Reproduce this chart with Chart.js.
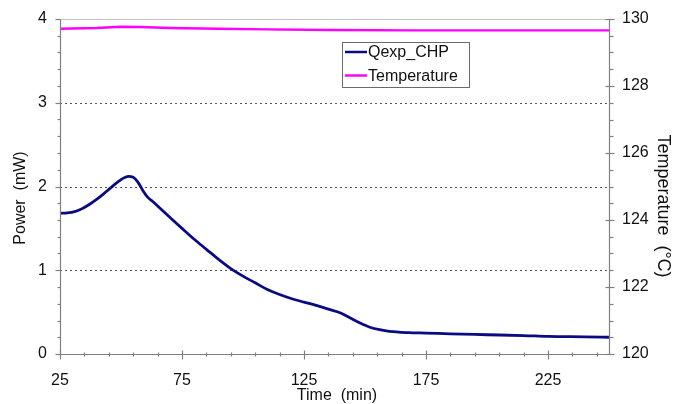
<!DOCTYPE html>
<html>
<head>
<meta charset="utf-8">
<script src="https://cdn.jsdelivr.net/npm/chart.js@4.4.1/dist/chart.umd.min.js"></script>
<style>
html,body{margin:0;padding:0;background:#fff;}
#wrap{width:673px;height:404px;position:relative;}
</style>
</head>
<body>
<div id="wrap"><canvas id="c" width="673" height="404"></canvas></div>
<script>
// ---- data ----
const powerTime = [25,28,31,34,37,40,43,46,49,51,53,55,57,59,61,63,66,69,72,75,80,85,90,95,100,105,110,115,120,125,130,135,140,144,148,152,156,160,168,175,185,200,215,225,240,250];
const powerValues = [1.68,1.685,1.70,1.735,1.785,1.845,1.915,1.99,2.06,2.10,2.12,2.11,2.05,1.95,1.87,1.82,1.74,1.66,1.58,1.50,1.37,1.25,1.13,1.02,0.93,0.85,0.77,0.71,0.66,0.62,0.58,0.535,0.49,0.43,0.37,0.32,0.29,0.27,0.255,0.25,0.24,0.23,0.22,0.21,0.205,0.20];
const tempTime = [25,40,50,58,70,90,110,135,170,210,250];
const tempValues = [129.71,129.73,129.77,129.76,129.73,129.71,129.69,129.67,129.66,129.66,129.66];
const xTickLabels = [25,75,125,175,225];
const yTickLabels = [0,1,2,3,4];
const y2TickLabels = [120,122,124,126,128,130];
const seriesNames = ['Qexp_CHP','Temperature'];

const FONT = '"Liberation Sans", Arial, sans-serif';
const colors = ['#0a0a82','#ff00ff'];

const decor = {
  id:'decor',
  beforeDatasetsDraw(chart){
    const {ctx, chartArea:a, scales} = chart;
    const y = scales.y;
    ctx.save();
    ctx.strokeStyle = '#555';
    ctx.lineWidth = 1;
    ctx.setLineDash([2,3]);
    [1,2,3].forEach(v=>{
      const py = Math.round(y.getPixelForValue(v))+0.5;
      ctx.beginPath(); ctx.moveTo(a.left, py); ctx.lineTo(a.right, py); ctx.stroke();
    });
    ctx.setLineDash([]);
    ctx.strokeStyle = '#c4c4c4';
    const pt = Math.round(y.getPixelForValue(4))+0.5;
    ctx.beginPath(); ctx.moveTo(a.left, pt); ctx.lineTo(a.right, pt); ctx.stroke();
    ctx.restore();
  },
  afterDatasetsDraw(chart){
    const {ctx, chartArea:a, scales} = chart;
    const x = scales.x, y = scales.y, y2 = scales.y2;
    ctx.save();
    ctx.strokeStyle = '#808080';
    ctx.lineWidth = 1.2;
    const L = Math.round(a.left)+0.5, R = Math.round(a.right)+0.5, B = Math.round(a.bottom)+0.5, T = Math.round(a.top)+0.5;
    ctx.beginPath();
    ctx.moveTo(L,T); ctx.lineTo(L,B); ctx.lineTo(R,B); ctx.lineTo(R,T);
    ctx.stroke();
    for(let v=0; v<=4.0001; v+=0.2){
      const py = Math.round(y.getPixelForValue(v))+0.5;
      const major = Math.abs(v-Math.round(v))<1e-6;
      ctx.beginPath(); ctx.moveTo(L-(major?5:3),py); ctx.lineTo(L,py); ctx.stroke();
    }
    for(let v=120; v<=130.0001; v+=0.5){
      const py = Math.round(y2.getPixelForValue(v))+0.5;
      const major = Math.abs(v/2-Math.round(v/2))<1e-6;
      ctx.beginPath(); ctx.moveTo(R-(major?4:0),py); ctx.lineTo(R+(major?5:4),py); ctx.stroke();
    }
    for(let v=25; v<=250.0001; v+=10){
      const px = Math.round(x.getPixelForValue(v))+0.5;
      const major = ((v-25)%50)===0;
      ctx.beginPath(); ctx.moveTo(px,B-(major?4:2)); ctx.lineTo(px,B+(major?5:2)); ctx.stroke();
    }
    ctx.fillStyle = '#111';
    ctx.font = '16px '+FONT;
    ctx.textAlign='center'; ctx.textBaseline='middle';
    ctx.fillText('Time  (min)', 337, 396);
    ctx.save(); ctx.translate(21,198); ctx.rotate(-Math.PI/2); ctx.fillText('Power  (mW)',0,0); ctx.restore();
    ctx.save(); ctx.translate(663,206); ctx.rotate(Math.PI/2); ctx.font='18px '+FONT; ctx.fillText('Temperature  (°C)',0,0); ctx.restore();
    const lx=342, ly=42, lw=127, lh=45;
    ctx.fillStyle='#fff'; ctx.fillRect(lx,ly,lw,lh);
    ctx.strokeStyle='#6a6a6a'; ctx.lineWidth=1;
    ctx.strokeRect(lx+0.5,ly+0.5,lw,lh);
    ctx.font='16px '+FONT; ctx.textAlign='left';
    chart.data.datasets.forEach((ds,i)=>{
      const yy = ly+10+i*23.5;
      ctx.strokeStyle = ds.borderColor; ctx.lineWidth=2.5;
      ctx.beginPath(); ctx.moveTo(lx+3,yy); ctx.lineTo(lx+25,yy); ctx.stroke();
      ctx.fillStyle='#111';
      ctx.fillText(ds.label, lx+26, yy+1);
    });
    ctx.restore();
  }
};

new Chart(document.getElementById('c'), {
  type:'line',
  data:{
    datasets:[
      {label:seriesNames[0], data:powerTime.map((t,i)=>({x:t,y:powerValues[i]})), yAxisID:'y', borderColor:colors[0], borderWidth:2.8, pointRadius:0, cubicInterpolationMode:'monotone'},
      {label:seriesNames[1], data:tempTime.map((t,i)=>({x:t,y:tempValues[i]})), yAxisID:'y2', borderColor:colors[1], borderWidth:2.4, pointRadius:0, tension:0}
    ]
  },
  options:{
    responsive:false, animation:false,
    layout:{padding:{top:19, left:0, right:0, bottom:0}},
    plugins:{legend:{display:false}, tooltip:{enabled:false}},
    scales:{
      x:{type:'linear', min:25, max:250, position:'bottom',
        afterBuildTicks(s){ s.ticks = xTickLabels.map(v=>({value:v})); },
        afterFit(s){ s.height = 50; },
        grid:{display:false}, border:{display:false},
        ticks:{font:{size:16, family:FONT}, color:'#111', padding:9, maxRotation:0, autoSkip:false}
      },
      y:{type:'linear', min:0, max:4, position:'left',
        afterBuildTicks(s){ s.ticks = yTickLabels.map(v=>({value:v})); },
        afterFit(s){ s.width = 60; },
        grid:{display:false}, border:{display:false},
        ticks:{font:{size:16, family:FONT}, color:'#111', padding:5}
      },
      y2:{type:'linear', min:120, max:130, position:'right',
        afterBuildTicks(s){ s.ticks = y2TickLabels.map(v=>({value:v})); },
        afterFit(s){ s.width = 64; },
        grid:{display:false}, border:{display:false},
        ticks:{font:{size:16, family:FONT}, color:'#111', padding:5}
      }
    }
  },
  plugins:[decor]
});
</script>
</body>
</html>
